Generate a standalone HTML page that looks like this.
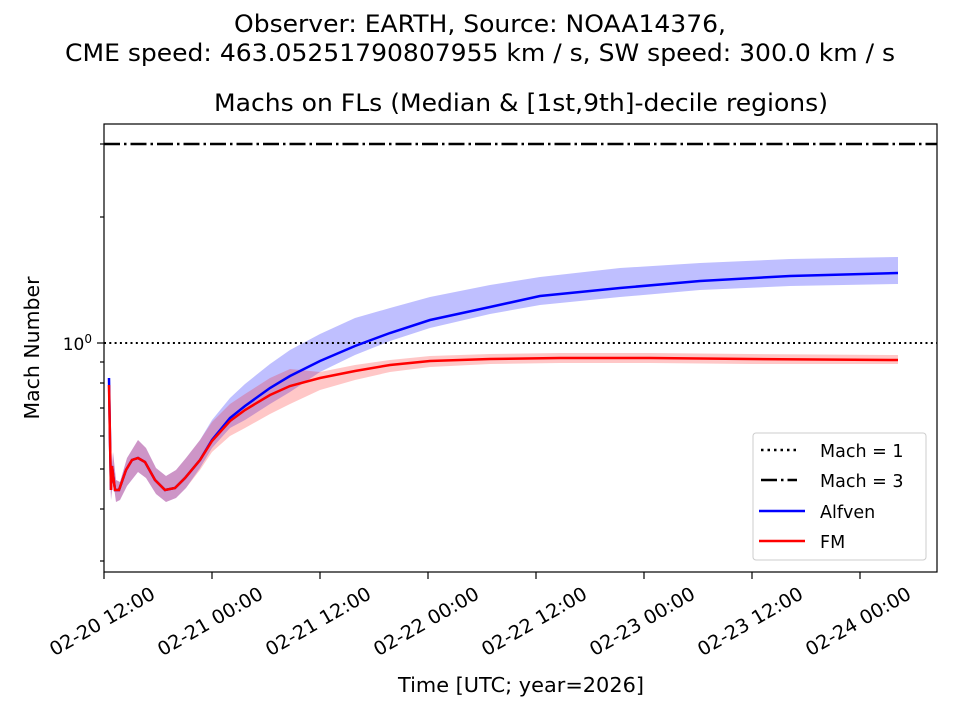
<!DOCTYPE html>
<html><head><meta charset="utf-8"><style>body{margin:0;background:#fff}svg{display:block;font-family:"DejaVu Sans","Liberation Sans",sans-serif}</style></head>
<body>
<svg width="960" height="720" viewBox="0 0 960 720" xmlns="http://www.w3.org/2000/svg">
<rect width="960" height="720" fill="#fff"/>
<text x="480" y="32" font-size="24" text-anchor="middle" textLength="492" lengthAdjust="spacingAndGlyphs">Observer: EARTH, Source: NOAA14376,</text>
<text x="480" y="61" font-size="24" text-anchor="middle" textLength="830" lengthAdjust="spacingAndGlyphs">CME speed: 463.05251790807955 km / s, SW speed: 300.0 km / s</text>
<text x="521" y="111" font-size="24" text-anchor="middle" textLength="614" lengthAdjust="spacingAndGlyphs">Machs on FLs (Median &amp; [1st,9th]-decile regions)</text>
<defs><clipPath id="c"><rect x="104" y="124" width="833" height="448"/></clipPath></defs>
<g clip-path="url(#c)">
<path d="M109,372 L110,440 L111,478 L113,452 L116,480 L120,482 L127,458 L138,440 L146,448 L156,468 L166,476 L176,470 L186,458 L200,440 L212,420 L230,398 L245,384 L270,364 L290,350 L320,334 L355,318 L390,308 L430,297 L490,285 L540,277 L620,268 L700,263 L790,259 L898,257 L898,284 L790,286 L700,290 L620,297 L540,305 L490,314 L430,328 L390,341 L355,355 L320,372 L290,392 L270,404 L245,420 L230,428 L212,448 L200,468 L186,488 L176,498 L166,502 L156,494 L146,478 L138,472 L127,486 L120,500 L116,502 L113,480 L111,500 L110,470 L109,395 Z" fill="#0000ff" fill-opacity="0.25"/>
<path d="M109,378 L110,440 L111,478 L113,452 L116,480 L120,482 L127,458 L138,440 L146,448 L156,468 L166,476 L176,470 L186,458 L200,440 L212,422 L230,404 L245,394 L270,378 L290,369 L320,372 L355,365 L390,360 L430,356 L490,354 L560,353 L650,353 L750,354 L898,355 L898,364 L750,364 L650,363 L560,363 L490,364 L430,367 L390,372 L355,380 L320,390 L290,404 L270,414 L245,428 L230,436 L212,452 L200,470 L186,488 L176,498 L166,502 L156,494 L146,478 L138,472 L127,486 L120,500 L116,502 L113,480 L111,500 L110,470 L109,395 Z" fill="#ff0000" fill-opacity="0.22"/>
<line x1="104" y1="343" x2="937" y2="343" stroke="#000" stroke-width="2" stroke-dasharray="2,3.3"/>
<line x1="104" y1="144" x2="937" y2="144" stroke="#000" stroke-width="2.5" stroke-dasharray="16,4,2.5,4"/>
<polyline fill="none" stroke="#0000ff" stroke-width="2.5" points="109,378 110,440 111,490 112,466 115,490 119,490 126,470 132,460 138,458 145,462 155,480 165,490 175,488 185,478 200,460 212,440 230,418 245,406 270,388 290,376 320,361 355,346 390,333 430,320 490,307 540,296 620,288 700,281 790,276 898,273"/>
<polyline fill="none" stroke="#ff0000" stroke-width="2.5" points="109,385 110,440 111,490 112,466 115,490 119,490 126,470 132,460 138,458 145,462 155,480 165,490 175,488 185,478 200,460 212,441 230,421 245,410 270,395 290,386 320,378 355,371 390,365 430,361 490,359 560,358 650,358 750,359 898,360"/>
</g>
<rect x="104" y="124" width="833" height="448" fill="none" stroke="#000" stroke-width="1.2"/>
<g stroke="#000" stroke-width="1.2">
<line x1="104" y1="343" x2="97" y2="343"/>
<line x1="104" y1="144" x2="100" y2="144"/><line x1="104" y1="217" x2="100" y2="217"/>
<line x1="104" y1="362" x2="100" y2="362"/><line x1="104" y1="383" x2="100" y2="383"/><line x1="104" y1="408" x2="100" y2="408"/><line x1="104" y1="436" x2="100" y2="436"/><line x1="104" y1="469" x2="100" y2="469"/><line x1="104" y1="509" x2="100" y2="509"/><line x1="104" y1="561" x2="100" y2="561"/>
<line x1="104" y1="572" x2="104" y2="579"/><line x1="212" y1="572" x2="212" y2="579"/><line x1="320" y1="572" x2="320" y2="579"/><line x1="428" y1="572" x2="428" y2="579"/><line x1="536" y1="572" x2="536" y2="579"/><line x1="644" y1="572" x2="644" y2="579"/><line x1="752" y1="572" x2="752" y2="579"/><line x1="860" y1="572" x2="860" y2="579"/>
</g>
<text x="92" y="350" font-size="17" text-anchor="end">10<tspan dy="-7" font-size="12">0</tspan></text>
<text transform="translate(39,348) rotate(-90)" font-size="20" text-anchor="middle" textLength="143" lengthAdjust="spacingAndGlyphs">Mach Number</text>
<g font-size="19" text-anchor="middle">
<text transform="translate(102,621) rotate(-30)" y="7" textLength="118" lengthAdjust="spacingAndGlyphs">02-20 12:00</text>
<text transform="translate(210,621) rotate(-30)" y="7" textLength="118" lengthAdjust="spacingAndGlyphs">02-21 00:00</text>
<text transform="translate(318,621) rotate(-30)" y="7" textLength="118" lengthAdjust="spacingAndGlyphs">02-21 12:00</text>
<text transform="translate(426,621) rotate(-30)" y="7" textLength="118" lengthAdjust="spacingAndGlyphs">02-22 00:00</text>
<text transform="translate(534,621) rotate(-30)" y="7" textLength="118" lengthAdjust="spacingAndGlyphs">02-22 12:00</text>
<text transform="translate(642,621) rotate(-30)" y="7" textLength="118" lengthAdjust="spacingAndGlyphs">02-23 00:00</text>
<text transform="translate(750,621) rotate(-30)" y="7" textLength="118" lengthAdjust="spacingAndGlyphs">02-23 12:00</text>
<text transform="translate(858,621) rotate(-30)" y="7" textLength="118" lengthAdjust="spacingAndGlyphs">02-24 00:00</text>
</g>
<text x="521" y="692" font-size="20" text-anchor="middle" textLength="246" lengthAdjust="spacingAndGlyphs">Time [UTC; year=2026]</text>
<rect x="753" y="433" width="173" height="127" rx="3" fill="#fff" fill-opacity="0.8" stroke="#ccc" stroke-width="1"/>
<line x1="761" y1="450" x2="797" y2="450" stroke="#000" stroke-width="2.5" stroke-dasharray="2.5,4"/>
<line x1="761" y1="480" x2="797" y2="480" stroke="#000" stroke-width="2.5" stroke-dasharray="16,4,2.5,4"/>
<line x1="759" y1="511" x2="805" y2="511" stroke="#0000ff" stroke-width="2.5"/>
<line x1="759" y1="541" x2="805" y2="541" stroke="#ff0000" stroke-width="2.5"/>
<g font-size="17.5"><text x="820" y="457">Mach = 1</text><text x="820" y="487">Mach = 3</text><text x="820" y="518">Alfven</text><text x="820" y="548">FM</text></g>
</svg>
</body></html>
